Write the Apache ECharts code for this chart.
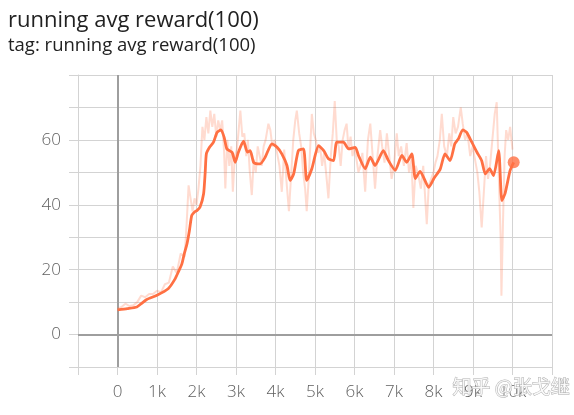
<!DOCTYPE html>
<html>
<head>
<meta charset="utf-8">
<script src="https://cdn.jsdelivr.net/npm/echarts@6/dist/echarts.min.js"></script>
<style>
  html, body { margin: 0; padding: 0; background: #fff; }
  #chart { width: 574px; height: 415px; }
</style>
</head>
<body>
<div id="chart"></div>
<script>
// raw (unsmoothed) values, step -> reward
const rawSteps = [0, 100, 200, 300, 400, 500, 600, 700, 800, 900, 1000, 1100, 1200, 1300, 1400, 1500, 1600, 1700, 1750, 1800, 1850, 1900, 1950, 2000, 2050, 2100, 2150, 2200, 2250, 2300, 2350, 2400, 2450, 2500, 2550, 2600, 2650, 2700, 2730, 2780, 2830, 2880, 2920, 2970, 3020, 3060, 3110, 3160, 3210, 3260, 3300, 3350, 3400, 3450, 3500, 3550, 3600, 3650, 3700, 3750, 3820, 3870, 3920, 3980, 4040, 4100, 4160, 4220, 4280, 4340, 4400, 4450, 4500, 4540, 4600, 4650, 4700, 4750, 4790, 4840, 4880, 4920, 4970, 5020, 5080, 5130, 5180, 5230, 5280, 5340, 5400, 5450, 5500, 5550, 5600, 5650, 5700, 5750, 5800, 5850, 5900, 5950, 6000, 6050, 6100, 6150, 6200, 6270, 6340, 6400, 6460, 6520, 6580, 6650, 6700, 6760, 6820, 6880, 6940, 7000, 7070, 7120, 7180, 7250, 7320, 7380, 7440, 7490, 7550, 7620, 7680, 7740, 7790, 7830, 7880, 7940, 8000, 8050, 8100, 8160, 8210, 8270, 8340, 8400, 8450, 8500, 8560, 8620, 8690, 8740, 8800, 8860, 8930, 8990, 9050, 9110, 9160, 9220, 9280, 9330, 9380, 9430, 9490, 9550, 9600, 9650, 9700, 9720, 9760, 9800, 9840, 9890, 9940, 10000];
const rawValues = [8, 8.5, 9.5, 8.8, 9, 10, 12, 11.5, 12.5, 12.5, 13.5, 13, 15.5, 16, 21, 19, 25, 24, 34, 46, 42, 38, 42, 40, 45, 52, 64, 60, 67, 62, 69, 64, 68, 61, 66, 63, 66, 56, 45, 60, 52, 58, 44, 55, 57, 62, 69, 61, 62, 55, 60, 50, 43, 54, 50, 58, 55, 52, 58, 60, 65, 63, 58, 60, 56, 52, 44, 57, 47, 38, 50, 60, 66, 69, 62, 58, 50, 45, 38, 48, 58, 68, 62, 60, 56, 58, 52, 56, 50, 42, 55, 62, 72, 60, 58, 52, 60, 63, 65, 57, 61, 55, 58, 54, 50, 52, 56, 44, 60, 65, 55, 45, 55, 63, 58, 53, 62, 55, 48, 52, 62, 55, 58, 52, 59, 50, 54, 39, 52, 49, 45, 52, 42, 34, 46, 48, 50, 53, 55, 60, 68, 58, 55, 62, 58, 67, 62, 64, 70, 65, 60, 62, 55, 58, 54, 50, 44, 33, 45, 55, 48, 52, 60, 68, 71.6, 50, 30, 12, 35, 55, 63, 60, 64, 57];

// smoothed values
const smoothSteps = [0, 250, 490, 600, 740, 1000, 1290, 1450, 1540, 1630, 1690, 1760, 1820, 1880, 1950, 2010, 2090, 2180, 2220, 2250, 2330, 2430, 2520, 2620, 2700, 2770, 2900, 2980, 3060, 3190, 3290, 3360, 3450, 3610, 3740, 3910, 4040, 4160, 4290, 4370, 4460, 4580, 4710, 4790, 4920, 5090, 5220, 5340, 5470, 5550, 5720, 5850, 6020, 6100, 6270, 6400, 6520, 6730, 6860, 7030, 7200, 7320, 7450, 7540, 7660, 7880, 8020, 8170, 8290, 8420, 8540, 8630, 8740, 8840, 8970, 9100, 9220, 9310, 9420, 9520, 9650, 9730, 9810, 9940, 10030];
const smoothValues = [7.6, 8.0, 8.5, 9.5, 10.8, 12.1, 14.2, 17, 19.3, 21.8, 24.9, 28, 32, 36.7, 37.8, 38.2, 39.3, 43.4, 50, 55.7, 57.7, 59.3, 62.3, 63.1, 60.8, 57.2, 56.2, 53.1, 56.2, 59.6, 56.2, 56.7, 53, 52.6, 54.7, 58.8, 57.7, 55.7, 52.1, 47.5, 49.5, 56.7, 57.2, 47.5, 51.1, 58.2, 56.7, 54.2, 53.6, 59.3, 59.3, 57.2, 57.7, 55.2, 51.1, 54.7, 52.1, 56.7, 53.6, 50.6, 55.2, 53.1, 55.7, 48.1, 50.3, 45.4, 48.3, 51, 55.7, 53.6, 58.8, 60.3, 63.1, 62.3, 59.3, 56.2, 53.6, 49.5, 51.1, 49, 56.7, 41.3, 43.4, 50.6, 53.1];

const yLabels = [0, 20, 40, 60];

const lineColor = "#ff7043";
const gridColor = "#d3d3d3";
const labelFont = "'Open Sans', sans-serif";

const chart = echarts.init(document.getElementById("chart"), null, { renderer: "canvas" });

const zip = (xs, ys) => xs.map((x, i) => [x, ys[i]]);
const last = smoothSteps.length - 1;

chart.setOption({
  animation: false,
  backgroundColor: "#fff",
  textStyle: { fontFamily: labelFont },
  title: {
    text: "running avg reward(100)",
    subtext: "tag: running avg reward(100)",
    left: 3,
    top: 5,
    itemGap: 4,
    textStyle: { fontSize: 22, fontWeight: "normal", color: "#212121", fontFamily: labelFont },
    subtextStyle: { fontSize: 18.5, color: "#212121", fontFamily: labelFont },
  },
  grid: { left: 78, right: 22, top: 75, bottom: 48, containLabel: false },
  xAxis: {
    type: "value",
    min: -1000,
    max: 11000,
    interval: 1000,
    axisLine: { show: true, onZero: false, lineStyle: { color: gridColor, width: 1 } },
    axisTick: { show: true, length: 8, lineStyle: { color: gridColor } },
    splitLine: { show: true, lineStyle: { color: gridColor, width: 1 } },
    axisLabel: {
      margin: 17,
      fontSize: 17,
      fontWeight: 300,
      color: "#5f5f5f",
      formatter: (v) => (v < 0 || v > 10000 ? "" : v === 0 ? "0" : v / 1000 + "k"),
    },
  },
  yAxis: {
    type: "value",
    min: -10,
    max: 80,
    interval: 10,
    axisLine: { show: true, onZero: false, lineStyle: { color: gridColor, width: 1 } },
    axisTick: { show: true, length: 9, lineStyle: { color: gridColor } },
    splitLine: { show: true, lineStyle: { color: gridColor, width: 1 } },
    axisLabel: {
      margin: 17,
      fontSize: 17,
      fontWeight: 300,
      color: "#5f5f5f",
      formatter: (v) => (yLabels.includes(v) ? String(v) : ""),
    },
  },
  series: [
    {
      name: "raw",
      type: "line",
      data: zip(rawSteps, rawValues),
      showSymbol: false,
      lineStyle: { color: lineColor, width: 2, opacity: 0.25 },
      z: 2,
      markLine: {
        silent: true,
        symbol: "none",
        label: { show: false },
        lineStyle: { color: "#9e9e9e", width: 2, type: "solid" },
        data: [{ xAxis: 0 }, { yAxis: 0 }],
        z: 1,
      },
    },
    {
      name: "smoothed",
      type: "line",
      data: zip(smoothSteps, smoothValues),
      showSymbol: false,
      smooth: 0.2,
      lineStyle: { color: lineColor, width: 2.8 },
      z: 3,
    },
    {
      name: "last",
      type: "scatter",
      data: [[smoothSteps[last], smoothValues[last]]],
      symbolSize: 12,
      itemStyle: { color: lineColor },
      z: 4,
    },
  ],
  graphic: [
    {
      type: "text",
      left: 452,
      top: 377,
      z: 100,
      style: {
        text: "知乎 @张戈继",
        fontSize: 19,
        fontFamily: "Noto Sans CJK SC",
        fill: "rgba(255,255,255,0.85)",
        stroke: "#b0b0b0",
        lineWidth: 1,
      },
    },
  ],
});
</script>
</body>
</html>
